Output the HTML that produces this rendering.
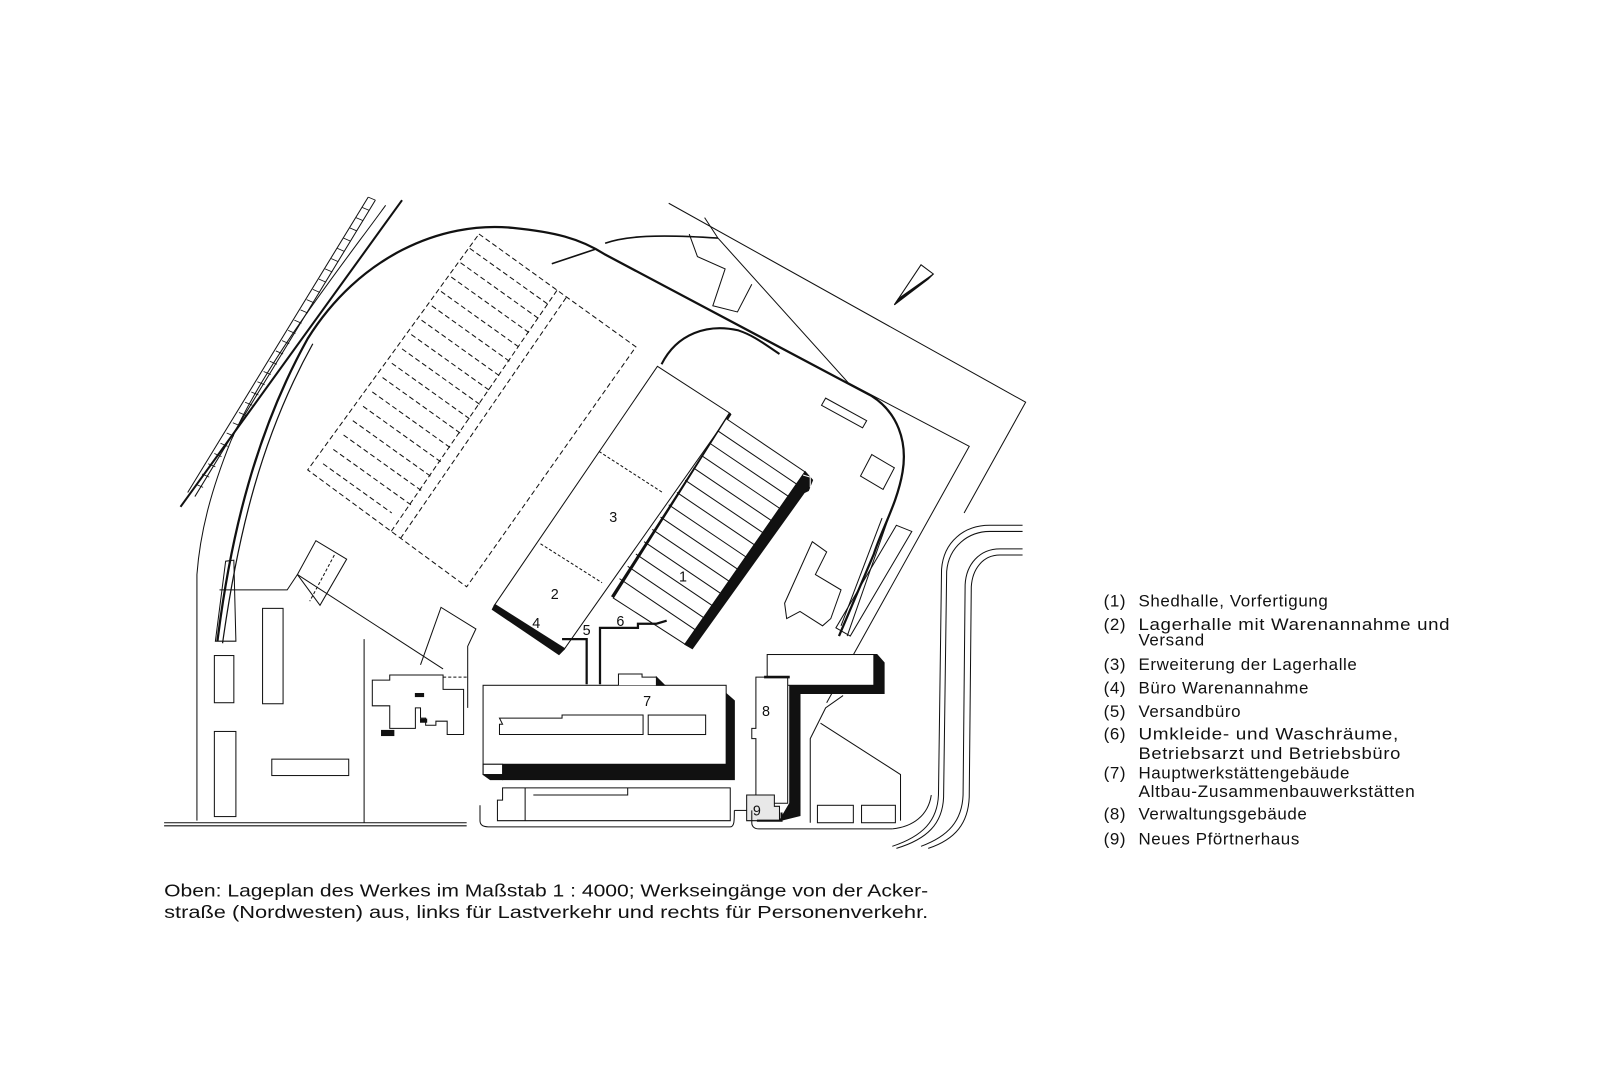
<!DOCTYPE html>
<html><head><meta charset="utf-8"><style>
html,body{margin:0;padding:0;background:#fff;}
svg{display:block;}
text{font-family:"Liberation Sans","DejaVu Sans",sans-serif;fill:#111;}
</style></head><body>
<svg width="1600" height="1067" viewBox="0 0 1560 1040" xmlns="http://www.w3.org/2000/svg">
<rect x="0" y="0" width="1560" height="1040" fill="#fff"/>
<g fill="none" stroke="#111" stroke-width="1" stroke-linejoin="miter">

<!-- embankment hatched strip -->
<path d="M359,192 L183,480" />
<path d="M366,195 L190,484" />
<g stroke-width="0.8">
<path d="M359,192 l7,3 M347,212 l7,3 M335,232 l7,3 M323,252 l7,3 M311,272 l7,3 M299,292 l7,3 M287,312 l7,3 M275,332 l7,3 M263,352 l7,3 M251,372 l7,3 M239,392 l7,3 M227,412 l7,3 M215,432 l7,3 M203,452 l7,3 M191,472 l7,3"/>
<path d="M353,202 l7,3 M341,222 l7,3 M329,242 l7,3 M317,262 l7,3 M305,282 l7,3 M293,302 l7,3 M281,322 l7,3 M269,342 l7,3 M257,362 l7,3 M245,382 l7,3 M233,402 l7,3 M221,422 l7,3 M209,442 l7,3 M197,462 l7,3"/>
</g>
<!-- straight track -->
<path d="M392,195 L176,494" stroke-width="2"/>
<path d="M376,200 C340,250 260,350 225,430 C205,480 195,520 192,560 L192,800" />
<!-- main curved track -->
<path d="M212,625 C225,520 250,420 300,330 C350,250 430,215 500,222 C540,226 565,232 590,248 L850,386 C875,402 885,430 880,460 C875,490 860,515 852,540 L818,620" stroke-width="2.2"/>
<path d="M217,627 C232,520 255,425 305,335" stroke-width="1.2"/>
<path d="M868,500 L826,620" stroke-width="1"/>
<!-- inner siding -->
<path d="M645,355 C660,325 690,315 720,322 C735,327 745,335 760,345" stroke-width="2"/>
<!-- small line segments top -->
<path d="M538,257 L580,243 M590,237 C610,230 640,228 700,232" stroke-width="1.6"/>

<!-- plot boundary lines top right -->
<path d="M652,198 L1000,392 L940,500" />
<path d="M687,212 L700,232 L827,373 L945,435 L806,685" />
<path d="M672,228 L680,250 L707,262 L695,298 L719,304 L733,277" />

<!-- north arrow -->
<path d="M872,297 L898,258 L910,267 Z" fill="#fff" stroke-width="1"/>
<path d="M872,297 L905,272 L910,267 L876,291 Z" fill="#111"/>

<!-- dashed future building -->
<g stroke-dasharray="5,3" stroke-width="1">
<path d="M467,228 L620,338 L455,572 L300,458 Z"/>
<path d="M543,283 L380,520"/>
<path d="M552,290 L389,527"/>
<path d="M458,242 l77,55 M449,256 l77,55 M440,270 l77,55 M430,284 l77,55 M421,298 l77,55 M411,312 l77,55 M401,326 l77,55 M392,340 l77,55 M382,354 l77,55 M373,368 l77,55 M363,382 l77,55 M354,396 l77,55 M344,410 l77,55 M335,424 l77,55 M325,438 l77,55 M315,452 l67,48"/>
</g>

<!-- left area -->
<path d="M160,802 L455,802 M160,805 L455,805" />
<path d="M220,547 L228,546 L230,625 L210,625 Z"/>
<path d="M214,575 L230,575 L280,575 L290,560"/>
<path d="M290,560 L308,527 L338,545 L312,590 Z"/>
<path d="M326,541 L302,586" stroke-dasharray="3,2"/>
<path d="M290,560 L432,652"/>
<rect x="209" y="639" width="19" height="46"/>
<rect x="256" y="593" width="20" height="93"/>
<rect x="209" y="713" width="21" height="83"/>
<rect x="265" y="740" width="75" height="16"/>
<path d="M355,623 L355,802"/>
<path d="M410,648 L430,592 L464,613 L456,630 L456,690"/>
<path d="M432,660 L456,660" stroke-dasharray="3,2"/>
<path d="M363,663 L380,663 L380,658 L432,658 L432,672 L452,672 L452,716 L436,716 L436,703 L425,703 L425,707 L415,707 L415,700 L410,700 L410,690 L405,690 L405,710 L380,710 L380,688 L363,688 Z" />
<rect x="372" y="712" width="12" height="5" fill="#111"/>
<rect x="405" y="676" width="8" height="3" fill="#111"/>
<rect x="410" y="701" width="6" height="3" fill="#111"/>

<!-- building 3/2 -->
<path d="M641,357 L712,403 L550,633 L482,590 Z" fill="#fff"/>
<path d="M584,440 L646,480 M527,530 L587,568" stroke-dasharray="3,2"/>
<path d="M482,590 L480,594 L545,638 L550,633 Z" fill="#111"/>
<path d="M482,590 L550,633" stroke-width="3"/>
<path d="M712,403 L597,582" stroke-width="3"/>

<!-- shed hall 1 -->
<path d="M708,408 L785,460 L668,628 L598,583 Z" fill="#fff"/>
<g stroke-width="1">
<path d="M700,420 l77,52 M692,432 l77,52 M684,444 l77,52 M676,456 l77,52 M668,468 l77,52 M660,480 l77,52 M652,492 l77,52 M644,504 l77,52 M636,516 l77,52 M628,528 l77,52 M620,540 l77,52 M612,552 l77,52 M604,564 l77,52"/>
</g>
<path d="M785,460 L792,468 L788,478 L784,480 L675,632 L668,628 Z" fill="#111" stroke-width="1.5"/>
<path d="M783,463 L790,465 L790,475" stroke="#fff" stroke-width="1"/>

<!-- connectors 5, 6 -->
<path d="M548,623 L572,623 L572,667" stroke-width="2.2"/>
<path d="M585,667 L585,612 L622,612 L622,608 L640,608 L650,605" stroke-width="2.2"/>

<!-- building 7 -->
<path d="M490,745 L708,745 L708,676 L716,683 L716,760 L490,760 Z" fill="#111"/>
<path d="M471,745 L490,745 L490,760 L478,760 L471,755 Z" fill="#111"/>
<rect x="471" y="668" width="237" height="77" fill="#fff"/>
<rect x="471" y="745" width="19" height="10" fill="#fff"/>
<path d="M603,668 L603,657 L626,657 L626,660 L640,660 L646,668" fill="#fff"/>
<path d="M640,660 L648,668 L640,668 Z" fill="#111"/>
<path d="M487,700 L548,700 L548,697 L627,697 L627,716 L548,716 L487,716 L487,706 L490,706 Z"/>
<rect x="632" y="697" width="56" height="19"/>
<path d="M471,745 L471,755"/>
<!-- below 7 -->
<path d="M490,768 L712,768 L712,800 L485,800 L485,780 L490,780 Z"/>
<path d="M512,768 L512,800 M520,775 L612,775 L612,768"/>
<path d="M468,785 L468,800 C468,805 472,806 476,806 L712,806 C716,806 716,800 716,790"/>
<path d="M716,790 L728,790"/>

<!-- building 8 -->
<path d="M838,638 L855,638 L862,646 L862,676 L780,676 L780,795 L760,800 L770,783 L770,668 L838,668 Z" fill="#111"/>
<rect x="748" y="638" width="104" height="30" fill="#fff"/>
<path d="M737,660 L768,660 L768,783 L737,783 L737,720 L733,720 L733,710 L737,710 Z" fill="#fff"/>
<path d="M745,660 L770,660" stroke-width="2.5"/>
<!-- 9 -->
<path d="M728,775 L755,775 L755,786 L760,786 L760,800 L728,800 Z" fill="#e8e8e8"/>
<path d="M738,800 L762,800 L762,792" stroke-width="2"/>

<!-- lower right -->
<path d="M790,802 L790,720 L805,690 L822,678 M800,705 L878,755 L878,800"/>
<rect x="797" y="785" width="35" height="17"/>
<rect x="840" y="785" width="33" height="17"/>
<path d="M733,802 L733,790 M733,802 C733,806 736,808 740,808 L870,808"/>

<!-- upper right small buildings -->
<path d="M805,388 L845,410 L841,417 L801,395 Z"/>
<path d="M850,443 L872,456 L861,477 L839,464 Z"/>
<path d="M792,528 L806,538 L795,560 L820,575 L810,603 L802,610 L780,596 L767,603 L765,588 Z"/>
<path d="M874,512 L889,518 L829,620 L815,612 Z"/>
<path d="M860,505 L820,610" />

<!-- right road -->
<path d="M997,512 L965,512 C940,512 920,528 918,555 L915,775 C914,800 900,815 870,825" />
<path d="M997,518 L965,518 C945,518 925,532 923,557 L920,777 C919,803 904,818 874,827" />
<path d="M997,535 L975,535 C955,535 942,550 941,570 L939,775 C938,800 925,815 898,825" />
<path d="M997,541 L975,541 C958,541 948,555 947,572 L945,777 C944,802 932,818 905,827" />
<path d="M870,808 C890,806 905,795 908,775" />
</g>

<!-- labels on plan -->
<g font-size="14">
<text x="662" y="567">1</text>
<text x="537" y="584">2</text>
<text x="594" y="509">3</text>
<text x="519" y="612">4</text>
<text x="568" y="619">5</text>
<text x="601" y="610">6</text>
<text x="627" y="688">7</text>
<text x="743" y="698">8</text>
<text x="734" y="795">9</text>
</g>

<!-- legend -->
<g font-size="16.5" letter-spacing="0.6">
<text x="1076" y="591">(1)</text><text x="1110" y="591">Shedhalle,  Vorfertigung</text>
<text x="1076" y="614">(2)</text><text x="1110" y="614" textLength="304" lengthAdjust="spacingAndGlyphs">Lagerhalle  mit  Warenannahme  und</text>
<text x="1110" y="629">Versand</text>
<text x="1076" y="653">(3)</text><text x="1110" y="653">Erweiterung  der  Lagerhalle</text>
<text x="1076" y="676">(4)</text><text x="1110" y="676">Büro  Warenannahme</text>
<text x="1076" y="699">(5)</text><text x="1110" y="699">Versandbüro</text>
<text x="1076" y="721">(6)</text><text x="1110" y="721" textLength="254" lengthAdjust="spacingAndGlyphs">Umkleide-  und  Waschräume,</text>
<text x="1110" y="740" textLength="256" lengthAdjust="spacingAndGlyphs">Betriebsarzt  und  Betriebsbüro</text>
<text x="1076" y="759">(7)</text><text x="1110" y="759">Hauptwerkstättengebäude</text>
<text x="1110" y="777" textLength="270" lengthAdjust="spacingAndGlyphs">Altbau-Zusammenbauwerkstätten</text>
<text x="1076" y="799">(8)</text><text x="1110" y="799">Verwaltungsgebäude</text>
<text x="1076" y="823">(9)</text><text x="1110" y="823">Neues  Pförtnerhaus</text>
</g>

<!-- caption -->
<g font-size="17">
<text x="160" y="874" textLength="745" lengthAdjust="spacingAndGlyphs">Oben:  Lageplan  des  Werkes  im  Maßstab  1 : 4000;  Werkseingänge  von  der  Acker-</text>
<text x="160" y="895" textLength="745" lengthAdjust="spacingAndGlyphs">straße  (Nordwesten)  aus,  links  für  Lastverkehr  und  rechts  für  Personenverkehr.</text>
</g>
</svg>
</body></html>
